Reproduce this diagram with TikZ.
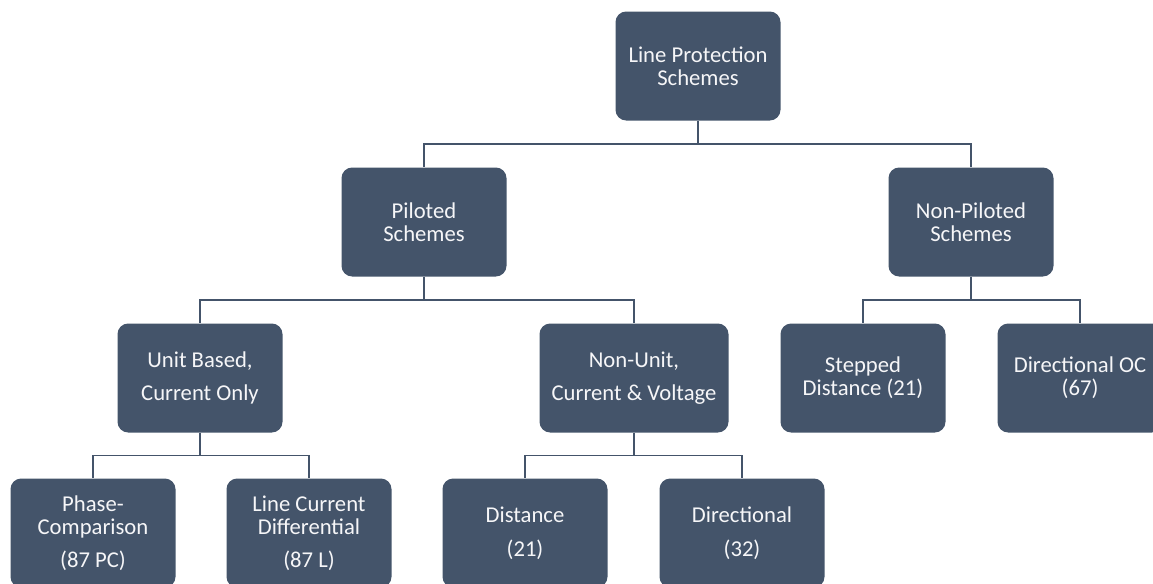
\documentclass[tikz,border=0pt]{standalone}
\usepackage{fontspec}
\setmainfont{Carlito}
\usetikzlibrary{calc}
\definecolor{slate}{HTML}{44546A}
\tikzset{
	box/.style={fill=slate, rounded corners=8pt, text=white!95!slate, align=center,
			minimum width=123.75pt, minimum height=81.75pt, inner sep=0pt,
			font=\fontsize{17}{17.25}\selectfont},
	link/.style={draw=slate, line width=0.8pt},
}
\begin{document}
\begin{tikzpicture}[x=0.75pt, y=-0.75pt]
	\useasboundingbox (0,0) rectangle (1153,583);
	% tree of schemes
	\node[box] (root) at (698,66) {Line Protection\\Schemes};
	\node[box] (pil) at (424,222) {Piloted\\Schemes};
	\node[box] (npil) at (971,222) {Non-Piloted\\Schemes};
	\node[box] (unit) at (200,378) {Unit Based,\\[8pt]Current Only};
	\node[box, minimum width=141.75pt] (nunit) at (634,378) {Non-Unit,\\[8pt]Current \& Voltage};
	\node[box] (step) at (863,378) {Stepped\\Distance (21)};
	\node[box] (doc) at (1080,378) {Directional OC\\(67)};
	\node[box] (phase) at (93,533) {Phase-\\Comparison\\[7.5pt](87 PC)};
	\node[box] (lcd) at (309,533) {Line Current\\Differential\\[7.5pt](87 L)};
	\node[box] (dist) at (525,533) {Distance\\[8pt](21)};
	\node[box] (dir) at (742,533) {Directional\\[8pt](32)};
	% connectors
	\foreach \a/\b in {root/pil, root/npil, pil/unit, pil/nunit, npil/step, npil/doc,
			unit/phase, unit/lcd, nunit/dist, nunit/dir}{
			\draw[link] (\a.south) |- ($(\a.south)!0.5!(\b.north)$) -| (\b.north);
		}
\end{tikzpicture}
\end{document}
